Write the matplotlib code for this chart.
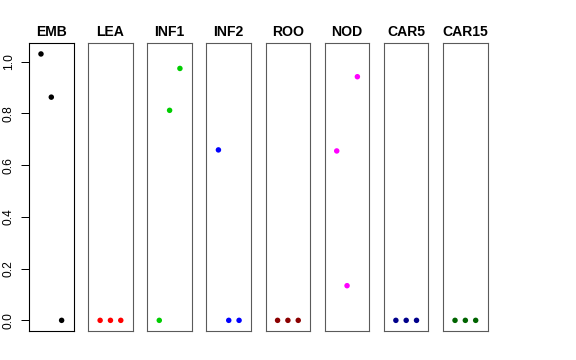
import matplotlib
matplotlib.use("Agg")
import matplotlib.pyplot as plt

plt.rcParams['font.family'] = ['Liberation Sans', 'DejaVu Sans']

panels = ["EMB", "LEA", "INF1", "INF2", "ROO", "NOD", "CAR5", "CAR15"]
colors = ["#000000", "#FF0000", "#00CD00", "#0000FF", "#8B0000", "#FF00FF", "#00008B", "#006400"]
x_pos = [1, 2, 3]
values = {
    "EMB":   [1.030, 0.863, 0.0],
    "LEA":   [0.0, 0.0, 0.0],
    "INF1":  [0.0, 0.812, 0.974],
    "INF2":  [0.659, 0.0, 0.0],
    "ROO":   [0.0, 0.0, 0.0],
    "NOD":   [0.655, 0.134, 0.942],
    "CAR5":  [0.0, 0.0, 0.0],
    "CAR15": [0.0, 0.0, 0.0],
}
yticks = [0.0, 0.2, 0.4, 0.6, 0.8, 1.0]
ytick_labels = ["0.0", "0.2", "0.4", "0.6", "0.8", "1.0"]

W, H = 576, 360
fig = plt.figure(figsize=(W / 72, H / 72), dpi=72)

left0 = 29.0
pw = 44.6
step = 59.15
top = 43.3
bottom = 331.0

ymax = max(max(v) for v in values.values())
ylim = (-0.04 * ymax, ymax * 1.04)

for i, name in enumerate(panels):
    l = left0 + i * step
    ax = fig.add_axes([l / W, (H - bottom) / H, pw / W, (bottom - top) / H])
    ax.scatter(x_pos, values[name], s=30, color=colors[i], edgecolors='none', zorder=3)
    ax.set_xlim(-0.16, 4.16)
    ax.set_ylim(*ylim)
    ax.set_xticks([])
    for sp in ax.spines.values():
        sp.set_color('#000000' if i == 0 else '#5a5a5a')
        sp.set_linewidth(1.1)
    if i == 0:
        ax.set_yticks(yticks)
        ax.set_yticklabels(ytick_labels, rotation=90, va='center', fontsize=12)
        ax.tick_params(axis='y', length=8, width=1, pad=6, color='#000000')
    else:
        ax.set_yticks([])
    ax.set_title(name, fontsize=14, fontweight='bold', pad=7)

fig.savefig("out.png", dpi=72)
